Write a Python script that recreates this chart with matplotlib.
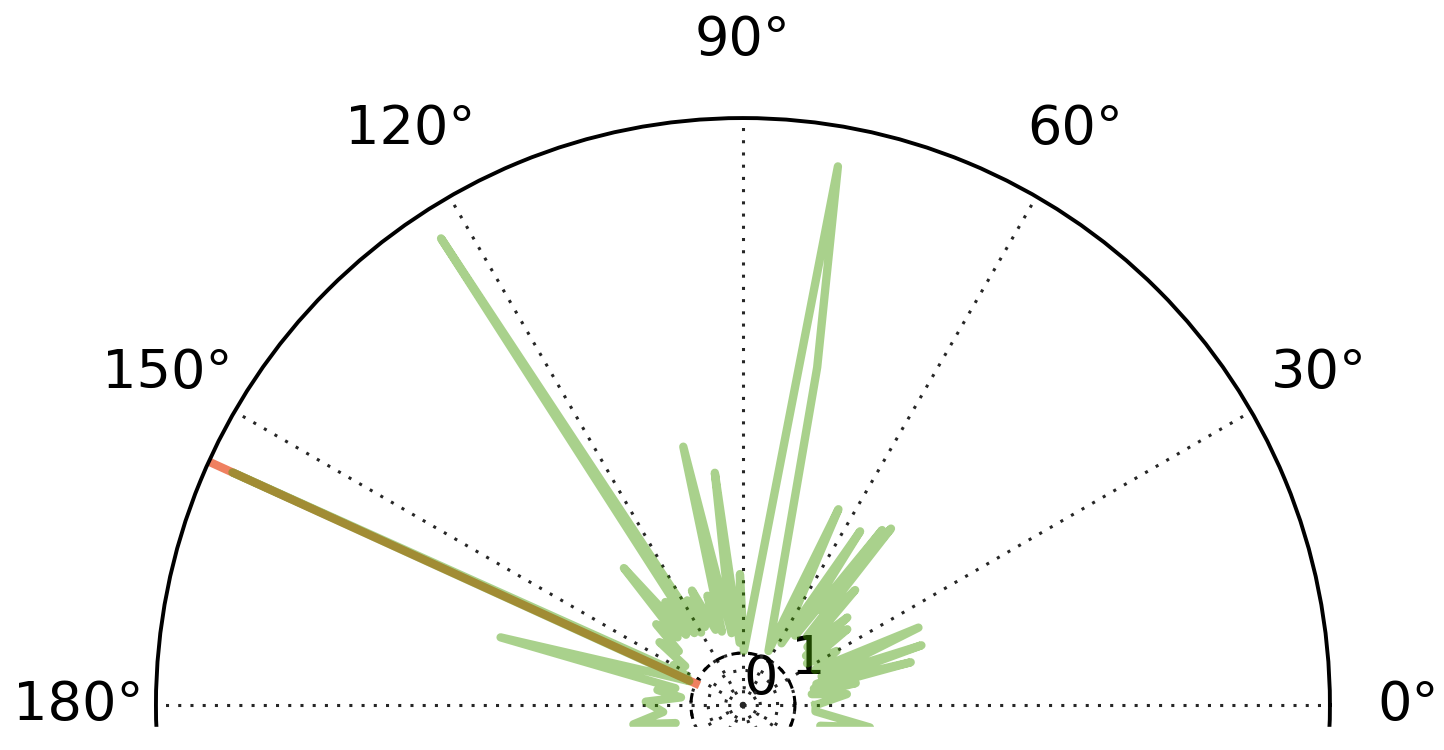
import numpy as np
from matplotlib import pyplot as plt
from matplotlib.patches import Rectangle

# spiky polar trace, angles in degrees, radius in data units
theta_deg = [0, 6, 9, 11, 13, 14.3, 16, 18.5, 20, 23.8, 26, 30, 33, 36, 38, 40,
             42, 45.7, 47, 50, 51, 51.5, 53, 56, 58, 64, 64.7, 77.6, 80, 89,
             91.3, 93, 96.9, 99, 103, 106, 108, 110, 114, 116, 118, 120, 122.9,
             124, 127, 129, 131, 134, 137, 140, 143, 146, 150, 153, 155.5, 156,
             160, 164.4, 166, 170, 173, 178, 185, 190, 195, 200, 210, 230, 260,
             290, 320, 335, 340, 345, 350, 355, 360]
radius = [1.40, 2.01, 1.34, 2.21, 1.40, 3.33, 1.47, 3.62, 1.61, 3.69, 1.54,
          2.08, 1.47, 2.48, 1.54, 2.62, 1.67, 3.09, 1.81, 4.43, 2.35, 4.30,
          1.67, 4.03, 1.40, 4.19, 1.15, 6.65, 10.52, 1.04, 2.52, 1.20, 4.50,
          1.40, 5.10, 1.47, 2.21, 1.54, 2.41, 1.67, 2.28, 1.61, 10.69, 1.67,
          2.48, 1.74, 3.49, 1.81, 2.28, 1.61, 2.01, 1.34, 1.54, 1.20, 10.79,
          1.13, 1.81, 4.84, 1.34, 1.67, 1.20, 1.87, 1.54, 2.14, 1.34, 2.35,
          1.40, 2.01, 1.67, 1.81, 1.94, 1.47, 2.68, 1.54, 2.48, 1.40, 1.40]

r_max = 11.29
r_ticks = [0, 1 / 3, 2 / 3, 1]
r_ticklabels = ['0', '', '', '1']
theta_ticks = np.arange(0, 360, 30)
# lower half is cut off in the reference, so only 0-180 get a label
theta_ticklabels = [f'{t}°' if t <= 180 else '' for t in theta_ticks]

green = '#429b00'
orange = '#ef8060'

theta = np.radians(theta_deg)
theta_peak = theta[np.argmax(radius)]

fig = plt.figure(figsize=(14.44, 7.5), dpi=100)
ax = fig.add_axes([0.108, -0.7227, 0.813, 1.5653], projection='polar')

ax.set_ylim(0, r_max)
ax.set_axisbelow(True)
ax.set_thetagrids(theta_ticks, labels=theta_ticklabels)
ax.set_rticks(r_ticks)
ax.set_yticklabels(r_ticklabels)
ax.set_rlabel_position(22.5)
ax.tick_params(axis='x', labelsize=39, pad=49, length=0)
ax.tick_params(axis='y', labelsize=39)
ax.grid(True, color='0.15', linestyle=(0, (1, 3)), linewidth=2.2)
ax.spines['polar'].set_linewidth(2.8)

# unit circle
circ = np.linspace(0, 2 * np.pi, 361)
ax.plot(circ, np.ones_like(circ), color='k', lw=2.2, dashes=(3, 2.5), zorder=1.5)

# direction of the largest value, out to the edge
ax.plot([theta_peak, theta_peak], [1, r_max], color=orange, lw=6, zorder=1.8)
ax.plot(theta, radius, color=green, alpha=0.45, lw=6, zorder=2)

# the reference is cut off a little below the 0-180 line
fig.add_artist(Rectangle((0, 0), 1, 23 / 750, transform=fig.transFigure,
                         color='white', zorder=10))

fig.savefig('out.png', dpi=100)
